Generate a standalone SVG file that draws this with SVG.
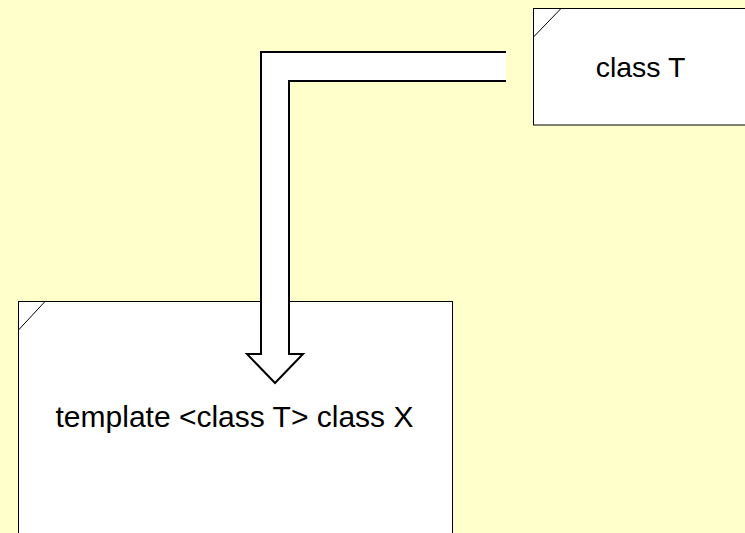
<svg xmlns="http://www.w3.org/2000/svg" width="745" height="533" viewBox="0 0 745 533">
<style>
.node{fill:#fff;stroke:#000;stroke-width:1}
.corner{fill:none;stroke:#000;stroke-width:1}
.lbl{font-family:"Liberation Sans",Arial,sans-serif;font-size:29px;fill:#000;text-anchor:middle}
.arrow{fill:#fff;stroke:none}
.arrowline{fill:none;stroke:#000;stroke-width:2;stroke-linejoin:miter}
</style>
<rect x="0" y="0" width="745" height="533" fill="#ffffcc"/>
<g id="node-classT">
<rect class="node" x="533.5" y="8.5" width="220" height="116.5"/>
<line class="corner" x1="533.5" y1="37" x2="561" y2="8.5"/>
<text class="lbl" x="640.5" y="77" style="font-size:28.5px">class T</text>
</g>
<g id="node-templateX">
<rect class="node" x="18.5" y="301.5" width="434" height="240"/>
<line class="corner" x1="18.5" y1="330" x2="45" y2="301.5"/>
<text class="lbl" x="234.5" y="427" style="font-size:30px">template &lt;class T&gt; class X</text>
</g>
<g id="connectors">
<path class="arrow" d="M506,52 L261,52 L261,354 L247,354 L275,383 L303,354 L289,354 L289,81 L506,81 Z"/>
<path class="arrowline" d="M506,52 L261,52 L261,354 L247,354 L275,383 L303,354 L289,354 L289,81 L506,81"/>
</g>
</svg>
